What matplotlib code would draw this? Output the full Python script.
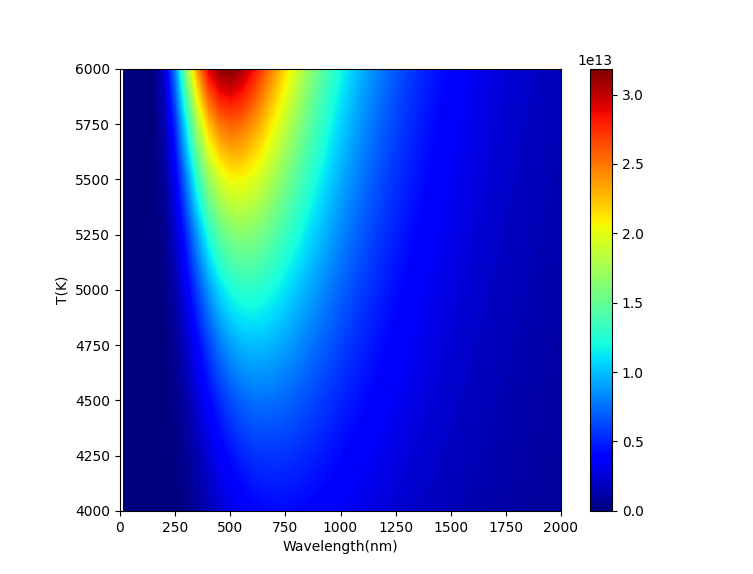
import numpy as np
from matplotlib import pyplot as plt
from matplotlib.patches import Rectangle

# wavelength columns, 0 to 2000 nm every 50 nm
wavelengths = list(range(0, 2001, 50))
temperatures = [4000, 4250, 4500, 4750, 5000, 5250, 5500, 5750, 6000]

# radiance, in units of 1e13
t4000 = [0, 0, 0, 0, .001, .007, .030, .078, .145, .218, .286, .342, .383, .407, .418, .418, .410, .395, .378, .357, .336,
         .313, .292, .272, .252, .232, .215, .198, .184, .170, .157, .145, .134, .124, .115, .107, .099, .092, .085, .079, .074]
t4250 = [0, 0, 0, 0, .002, .016, .062, .143, .246, .349, .438, .503, .545, .563, .567, .556, .536, .509, .480, .449, .418,
         .387, .357, .329, .303, .279, .257, .235, .217, .200, .183, .169, .156, .144, .133, .123, .113, .105, .097, .091, .084]
t4500 = [0, 0, 0, 0, .004, .034, .115, .245, .393, .530, .638, .708, .747, .754, .743, .717, .680, .638, .596, .551, .507,
         .467, .427, .392, .357, .328, .300, .274, .251, .230, .211, .194, .178, .164, .151, .139, .128, .119, .110, .102, .094]
t4750 = [0, 0, 0, 0, .010, .067, .202, .395, .598, .771, .893, .965, .988, .981, .949, .900, .843, .782, .720, .663, .605,
         .552, .503, .459, .416, .379, .346, .315, .288, .262, .240, .220, .201, .185, .170, .156, .144, .133, .123, .113, .105]
t5000 = [0, 0, 0, .001, .021, .122, .334, .609, .873, 1.08, 1.21, 1.27, 1.28, 1.24, 1.18, 1.10, 1.02, .940, .858, .781, .709,
         .644, .582, .529, .479, .434, .394, .358, .325, .296, .270, .246, .225, .206, .189, .174, .160, .147, .135, .125, .116]
t5250 = [0, 0, 0, .002, .042, .212, .528, .901, 1.23, 1.46, 1.59, 1.63, 1.61, 1.54, 1.44, 1.33, 1.22, 1.11, 1.01, .911, .821,
         .741, .667, .602, .543, .490, .444, .401, .364, .331, .300, .274, .250, .228, .209, .192, .176, .162, .149, .137, .127]
t5500 = [0, 0, 0, .004, .078, .348, .800, 1.29, 1.68, 1.93, 2.05, 2.05, 1.98, 1.87, 1.73, 1.58, 1.44, 1.30, 1.17, 1.05, .938,
         .843, .756, .678, .610, .549, .495, .447, .404, .366, .332, .302, .275, .251, .229, .210, .192, .177, .162, .149, .138]
t5750 = [0, 0, 0, .009, .137, .549, 1.17, 1.78, 2.24, 2.49, 2.57, 2.53, 2.40, 2.24, 2.04, 1.85, 1.67, 1.49, 1.34, 1.19, 1.06,
         .948, .847, .758, .680, .610, .548, .494, .445, .402, .365, .331, .301, .274, .250, .228, .209, .192, .176, .162, .149]
t6000 = [0, 0, 0, .018, .231, .832, 1.66, 2.40, 2.91, 3.14, 3.18, 3.06, 2.87, 2.63, 2.38, 2.14, 1.91, 1.70, 1.51, 1.34, 1.19,
         1.06, .942, .840, .751, .672, .602, .541, .487, .439, .397, .360, .326, .297, .271, .247, .226, .208, .190, .174, .160]

radiance = np.array([t4000, t4250, t4500, t4750, t5000, t5250, t5500, t5750, t6000]) * 1e13

fig = plt.figure(figsize=(7.53, 5.74), dpi=100)
ax = fig.add_axes([120 / 753, 0.11, 441 / 753, 0.77])

half_x = (wavelengths[1] - wavelengths[0]) / 2
half_y = (temperatures[1] - temperatures[0]) / 2
im = ax.imshow(radiance, cmap='jet', origin='lower', aspect='auto',
               interpolation='bilinear', interpolation_stage='data',
               vmin=0, vmax=3.185e13,
               extent=(wavelengths[0] - half_x, wavelengths[-1] + half_x,
                       temperatures[0] - half_y, temperatures[-1] + half_y))
# the mesh starts a little right of zero, leaving a white strip
im.set_clip_path(Rectangle((12, 4000), 1988, 2000, transform=ax.transData))

ax.set_xlim(0, 2000)
ax.set_ylim(4000, 6000)
ax.set_xticks(range(0, 2001, 250))
ax.set_yticks(range(4000, 6001, 250))
ax.set_xlabel('Wavelength(nm)')
ax.set_ylabel('T(K)')

cax = fig.add_axes([590 / 753, 0.11, 22 / 753, 0.77])
fig.colorbar(im, cax=cax)

fig.savefig('out.png', dpi=100)
